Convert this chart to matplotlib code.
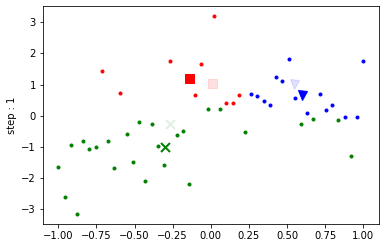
#!/usr/bin/env python3

import matplotlib
matplotlib.use("Agg")
import matplotlib.pyplot as plt

# cluster members
red_x = [-0.714, -0.592, -0.265, -0.102, -0.061, 0.020, 0.102, 0.143, 0.184]
red_y = [1.43, 0.72, 1.75, 0.66, 1.65, 3.19, 0.40, 0.40, 0.66]

blue_x = [0.265, 0.306, 0.347, 0.388, 0.429, 0.469, 0.510, 0.551,
          0.633, 0.714, 0.755, 0.796, 0.878, 0.959, 1.000]
blue_y = [0.69, 0.63, 0.47, 0.34, 1.24, 1.11, 1.81, 0.56,
          0.08, 0.69, 0.18, 0.34, -0.05, -0.05, 1.75]

green_x = [-1.000, -0.959, -0.918, -0.878, -0.837, -0.796, -0.755, -0.673,
           -0.633, -0.551, -0.510, -0.469, -0.429, -0.388, -0.347, -0.306,
           -0.224, -0.184, -0.143, -0.020, 0.061, 0.224, 0.592, 0.673,
           0.837, 0.918]
green_y = [-1.65, -2.61, -0.95, -3.16, -0.82, -1.07, -1.01, -0.82,
           -1.68, -0.59, -1.49, -0.21, -2.10, -0.27, -0.98, -1.59,
           -0.63, -0.50, -2.20, 0.21, 0.21, -0.53, -0.27, -0.11,
           -0.14, -1.30]

# centroids: previous (faded) and current
old_centers = {'r': (0.010, 1.04), 'b': (0.548, 1.03), 'g': (-0.266, -0.27)}
new_centers = {'r': (-0.141, 1.20), 'b': (0.600, 0.667), 'g': (-0.298, -1.01)}
center_marker = {'r': 's', 'b': 'v', 'g': 'x'}

fig = plt.figure(figsize=(384 / 72, 248 / 72), dpi=72)
ax = fig.add_axes([43 / 384, 24 / 248, 335.5 / 384, 218 / 248])

ax.plot(red_x, red_y, '.', color='r', markersize=6)
ax.plot(blue_x, blue_y, '.', color='b', markersize=6)
ax.plot(green_x, green_y, '.', color='g', markersize=6)

for c in ['r', 'b', 'g']:
  m = center_marker[c]
  mew = 2 if m == 'x' else 1
  ax.plot(*old_centers[c], m, color=c, markersize=9, alpha=0.12, markeredgewidth=mew)
  ax.plot(*new_centers[c], m, color=c, markersize=9, markeredgewidth=mew)

ax.set_xlim(-1.1, 1.1)
ax.set_ylim(-3.47, 3.52)
ax.set_xticks([-1.0, -0.75, -0.5, -0.25, 0.0, 0.25, 0.5, 0.75, 1.0])
ax.set_xticklabels(['−1.00', '−0.75', '−0.50', '−0.25', '0.00', '0.25', '0.50', '0.75', '1.00'])
ax.set_yticks([-3, -2, -1, 0, 1, 2, 3])
ax.set_ylabel('step : 1')

fig.savefig('out.png', dpi=72)
